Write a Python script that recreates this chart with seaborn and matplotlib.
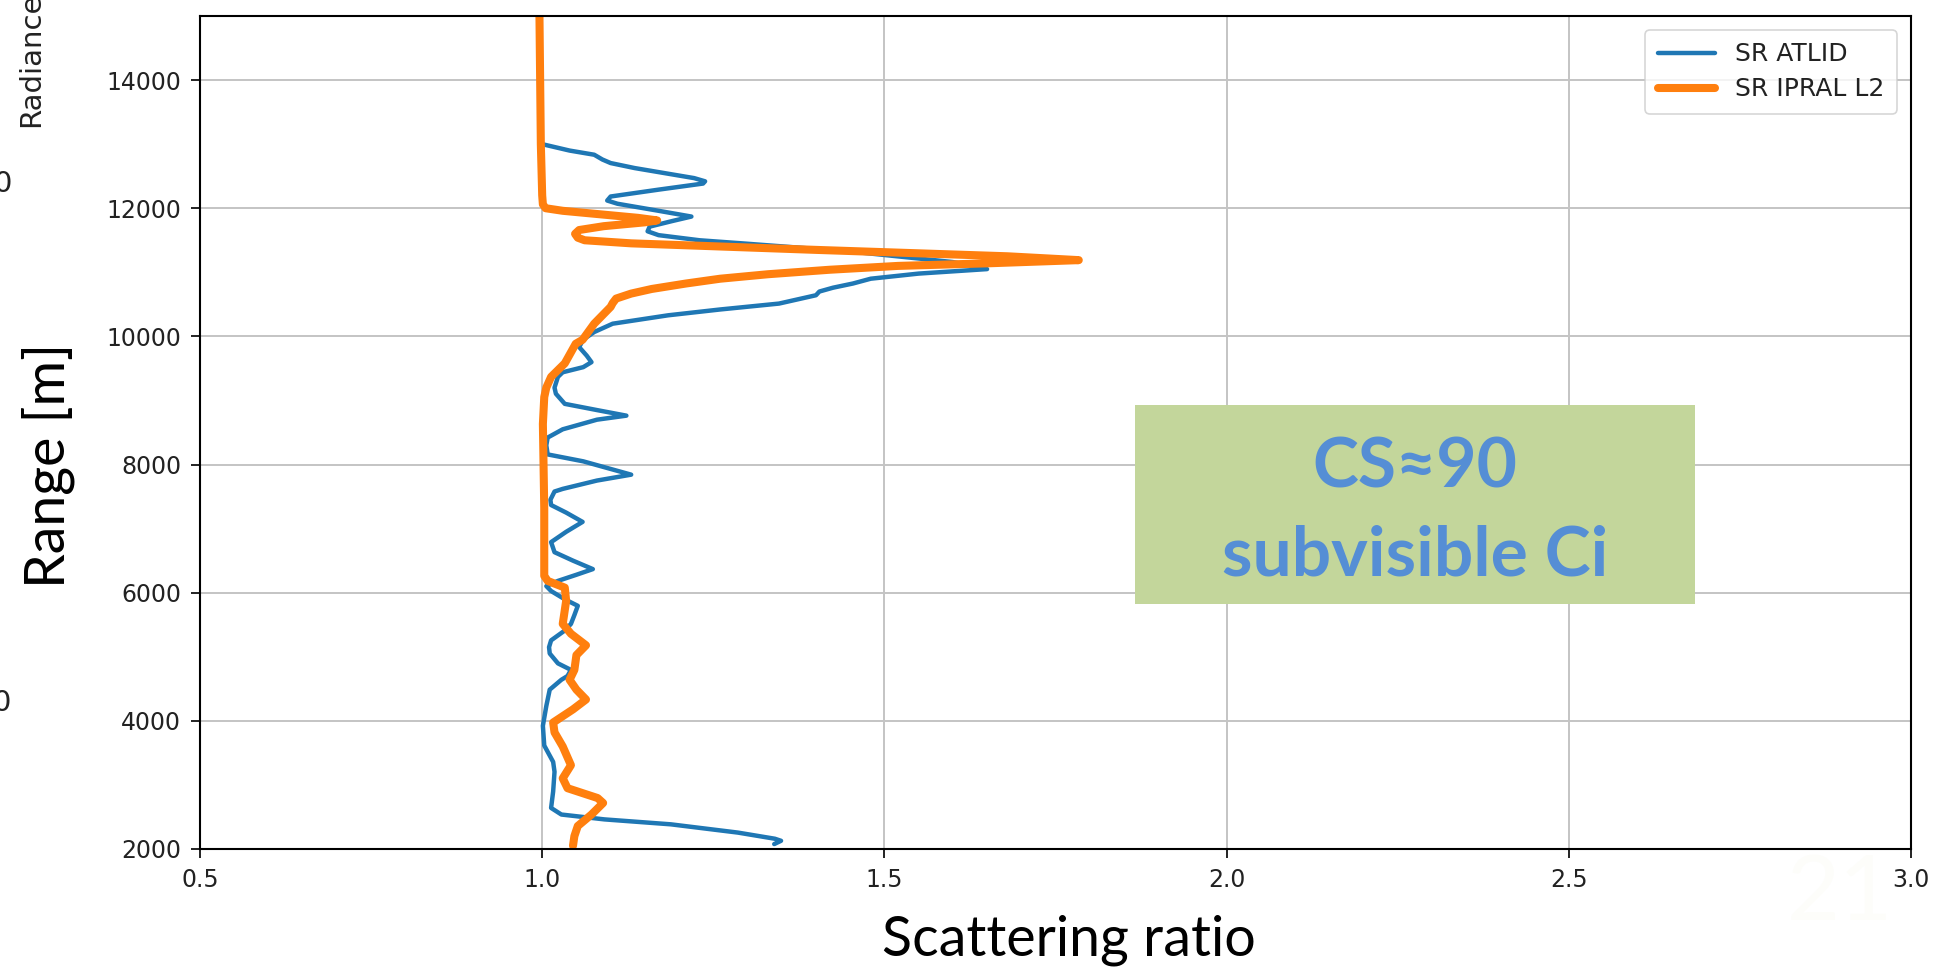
import numpy as np
import pandas as pd
import matplotlib
matplotlib.use("Agg")
import matplotlib.pyplot as plt
from matplotlib.patches import Rectangle
import seaborn as sns

# ATLID scattering-ratio profile (altitude in m, SR)
atlid_alt = [13000, 12900, 12835, 12760, 12705, 12627, 12470, 12420, 12385, 12290,
             12183, 12120, 12070, 11960, 11870, 11800, 11713, 11640, 11580, 11500,
             11452, 11321, 11160, 11050, 10980, 10900, 10825, 10760, 10700, 10642,
             10512, 10420, 10329, 10198, 10068, 9950, 9833, 9700, 9598, 9520,
             9440, 9368, 9200, 9105, 8947, 8850, 8763, 8700, 8550, 8421,
             8300, 8158, 8050, 7842, 7750, 7620, 7579, 7450, 7368, 7250,
             7105, 6950, 6789, 6632, 6500, 6368, 6280, 6184, 6103, 6026,
             5897, 5795, 5650, 5513, 5410, 5256, 5150, 5051, 4897, 4795,
             4700, 4641, 4487, 4231, 3923, 3615, 3359, 3205, 2897, 2641,
             2538, 2462, 2385, 2256, 2160, 2128, 2077]
atlid_sr = [1.000, 1.040, 1.076, 1.088, 1.100, 1.135, 1.222, 1.238, 1.235, 1.170,
            1.100, 1.095, 1.110, 1.170, 1.218, 1.190, 1.157, 1.154, 1.170, 1.230,
            1.292, 1.454, 1.600, 1.650, 1.550, 1.480, 1.454, 1.425, 1.405, 1.400,
            1.346, 1.260, 1.184, 1.103, 1.076, 1.060, 1.054, 1.065, 1.072, 1.060,
            1.030, 1.023, 1.018, 1.020, 1.033, 1.080, 1.123, 1.080, 1.030, 1.008,
            1.006, 1.008, 1.060, 1.130, 1.080, 1.030, 1.018, 1.012, 1.013, 1.035,
            1.059, 1.035, 1.013, 1.018, 1.045, 1.074, 1.050, 1.023, 1.006, 1.013,
            1.033, 1.052, 1.047, 1.042, 1.033, 1.013, 1.010, 1.011, 1.023, 1.042,
            1.037, 1.028, 1.011, 1.006, 1.001, 1.003, 1.016, 1.018, 1.016, 1.013,
            1.028, 1.091, 1.188, 1.286, 1.340, 1.349, 1.339]

# IPRAL L2 scattering-ratio profile
ipral_alt = [15000, 14000, 13000, 12200, 12060, 12000, 11960, 11900, 11850, 11810,
             11780, 11720, 11660, 11600, 11540, 11500, 11452, 11350, 11250, 11190,
             11140, 11100, 11040, 10970, 10900, 10825, 10740, 10668, 10590, 10520,
             10460, 10198, 9947, 9885, 9579, 9368, 9200, 9053, 8632, 7316,
             6263, 6184, 6079, 5872, 5513, 5359, 5179, 5026, 4795, 4641,
             4487, 4333, 4179, 3974, 3820, 3600, 3308, 3103, 2949, 2795,
             2718, 2538, 2359, 2200, 2050]
ipral_sr = [0.996, 0.997, 0.998, 1.000, 1.001, 1.005, 1.030, 1.090, 1.140, 1.168,
            1.150, 1.090, 1.054, 1.048, 1.052, 1.062, 1.130, 1.400, 1.680, 1.784,
            1.650, 1.520, 1.420, 1.330, 1.260, 1.210, 1.160, 1.130, 1.108, 1.103,
            1.100, 1.076, 1.059, 1.049, 1.033, 1.013, 1.006, 1.003, 1.001, 1.003,
            1.003, 1.008, 1.033, 1.035, 1.030, 1.042, 1.064, 1.050, 1.047, 1.040,
            1.050, 1.064, 1.045, 1.016, 1.018, 1.030, 1.042, 1.030, 1.037, 1.081,
            1.089, 1.072, 1.052, 1.047, 1.045]

x_ticks = [0.5, 1.0, 1.5, 2.0, 2.5, 3.0]
y_ticks = [2000, 4000, 6000, 8000, 10000, 12000, 14000]

sns.set_theme(style="whitegrid", rc={
    "axes.edgecolor": "black",
    "axes.linewidth": 1.5,
    "grid.color": "#c4c4c4",
    "grid.linewidth": 1.4,
    "xtick.bottom": True,
    "ytick.left": True,
    "xtick.major.size": 6.5,
    "ytick.major.size": 6.5,
    "xtick.major.width": 1.4,
    "ytick.major.width": 1.4,
    "xtick.color": "#222222",
    "ytick.color": "#222222",
})
plt.rcParams["font.family"] = ["DejaVu Sans"]

fig = plt.figure(figsize=(19.4, 9.73), dpi=100)
W, H = 1940, 973
ax = fig.add_axes([200 / W, 1 - 849 / H, 1711 / W, 833 / H])

df_atlid = pd.DataFrame({"sr": atlid_sr, "alt": atlid_alt})
df_ipral = pd.DataFrame({"sr": ipral_sr, "alt": ipral_alt})

sns.lineplot(data=df_atlid, x="sr", y="alt", sort=False, estimator=None, orient="y",
             color="#1f77b4", linewidth=3.2, label="SR ATLID", ax=ax)
sns.lineplot(data=df_ipral, x="sr", y="alt", sort=False, estimator=None, orient="y",
             color="#ff7f0e", linewidth=5.8, label="SR IPRAL L2", ax=ax)

ax.set_xlim(0.5, 3.0)
ax.set_ylim(2000, 15000)
ax.set_xticks(x_ticks)
ax.set_xticklabels([f"{v:.1f}" for v in x_ticks])
ax.set_yticks(y_ticks)
ax.set_yticklabels([str(v) for v in y_ticks])
ax.tick_params(axis="both", labelsize=17, pad=7)

leg = ax.legend(loc="upper right", fontsize=18, frameon=True, fancybox=True,
                handlelength=2.3, borderpad=0.5, labelspacing=0.45, handletextpad=0.8,
                borderaxespad=0.55)
leg.get_frame().set_edgecolor("#cccccc")
leg.get_frame().set_linewidth(1.2)
for t in leg.get_texts():
    t.set_color("#222222")

ax.set_xlabel("Scattering ratio", fontsize=40, family=["Lato", "DejaVu Sans"], color="black")
ax.set_ylabel("Range [m]", fontsize=40, family=["Lato", "DejaVu Sans"], color="black")
ax.xaxis.set_label_coords((1069 - 200) / 1711, (849 - 940) / 833)
ax.xaxis.label.set_va("center")
ax.yaxis.set_label_coords((48 - 200) / 1711, (849 - 466) / 833)
ax.yaxis.label.set_va("center")

# cloud-type annotation box
box = Rectangle((1134.5 / W, 1 - 604 / H), (1695 - 1134.5) / W, (604 - 405) / H,
                transform=fig.transFigure, facecolor="#c3d69b", edgecolor="none", zorder=5)
fig.add_artist(box)
fig.text(1415 / W, 1 - 487 / H, "CS≈90", ha="center", va="baseline", fontsize=50,
         fontweight="bold", color="#558ed5", family=["Lato", "DejaVu Sans"], zorder=6)
fig.text(1415 / W, 1 - 576 / H, "subvisible Ci", ha="center", va="baseline", fontsize=50,
         fontweight="bold", color="#558ed5", family=["Lato", "DejaVu Sans"], zorder=6)

# fragments of the neighbouring panel at the left edge
fig.text(31 / W, 1 - 127 / H, "Radiance", rotation=90, rotation_mode="anchor",
         ha="left", va="center", fontsize=21, color="#222222")
fig.text(2 / W, 1 - 184 / H, "0", ha="center", va="center", fontsize=21, color="#222222")
fig.text(1 / W, 1 - 703 / H, "0", ha="center", va="center", fontsize=21, color="#222222")

# faint page number
fig.text(1840 / W, 1 - 895 / H, "21", ha="center", va="center", fontsize=66,
         color="#fdfdfa", family=["Lato", "DejaVu Sans"])

fig.savefig("out.png", dpi=100)
